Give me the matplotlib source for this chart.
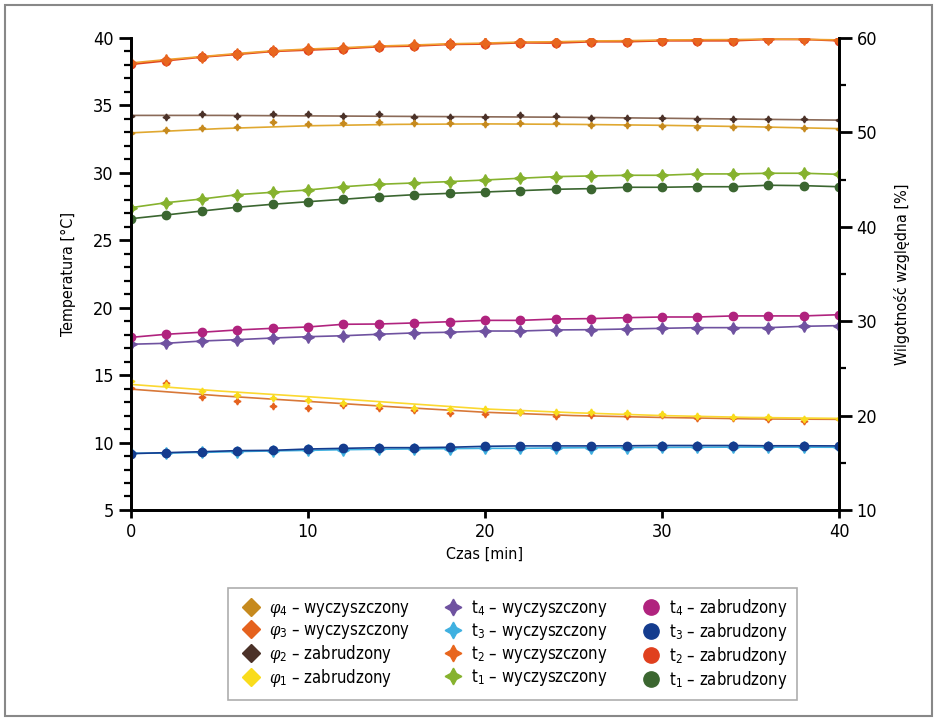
import numpy as np
import matplotlib
matplotlib.use('Agg')
import matplotlib.pyplot as plt
from matplotlib import font_manager
from matplotlib.lines import Line2D
from matplotlib.patches import Rectangle

# Czas pomiaru [min]
czas = np.arange(0, 41, 2)
czas_fit = np.arange(0, 41, 5)

# Temperatury [C] - os lewa
t1_wyc = [27.42, 27.79, 28.06, 28.38, 28.56, 28.73, 28.97, 29.15, 29.25, 29.35, 29.47,
          29.6, 29.72, 29.77, 29.82, 29.82, 29.92, 29.92, 29.97, 29.97, 29.89]
t1_zab = [26.6, 26.88, 27.17, 27.45, 27.67, 27.86, 28.04, 28.23, 28.38, 28.48, 28.58,
          28.68, 28.78, 28.83, 28.93, 28.93, 28.97, 28.97, 29.08, 29.05, 28.97]
t2_wyc = [38.15, 38.4, 38.62, 38.85, 39.05, 39.18, 39.28, 39.4, 39.48, 39.57, 39.62,
          39.7, 39.72, 39.78, 39.8, 39.85, 39.87, 39.88, 39.92, 39.9, 39.86]
t2_zab = [38.05, 38.32, 38.59, 38.79, 39.01, 39.11, 39.21, 39.36, 39.41, 39.53, 39.56,
          39.65, 39.63, 39.73, 39.73, 39.8, 39.8, 39.8, 39.9, 39.9, 39.8]
t3_wyc = [9.2, 9.22, 9.27, 9.33, 9.38, 9.42, 9.47, 9.5, 9.53, 9.55, 9.57,
          9.57, 9.6, 9.62, 9.63, 9.64, 9.65, 9.66, 9.66, 9.66, 9.65]
t3_zab = [9.18, 9.25, 9.32, 9.4, 9.42, 9.52, 9.57, 9.62, 9.62, 9.65, 9.72,
          9.75, 9.75, 9.75, 9.76, 9.78, 9.78, 9.78, 9.76, 9.76, 9.75]
t4_wyc = [17.29, 17.36, 17.53, 17.63, 17.75, 17.85, 17.92, 18.03, 18.13, 18.18, 18.27,
          18.27, 18.35, 18.37, 18.42, 18.47, 18.52, 18.52, 18.52, 18.62, 18.67]
t4_zab = [17.8, 18.03, 18.18, 18.35, 18.47, 18.57, 18.77, 18.79, 18.87, 18.96, 19.06,
          19.06, 19.16, 19.19, 19.26, 19.31, 19.31, 19.39, 19.39, 19.39, 19.48]

# Wilgotnosc wzgledna [%] - os prawa (punkty + linie trendu)
phi1_zab = [23.7, 23.24, 22.64, 22.18, 21.9, 21.68, 21.37, 21.16, 20.84, 20.73, 20.7,
            20.41, 20.41, 20.41, 20.24, 20.14, 19.96, 19.88, 19.88, 19.64, 19.67]
phi1_zab_fit = [23.3, 22.6, 22.0, 21.35, 20.7, 20.3, 20.0, 19.8, 19.7]
phi2_zab = [51.7, 51.6, 51.9, 51.7, 51.9, 51.9, 51.7, 51.9, 51.6, 51.6, 51.6,
            51.8, 51.7, 51.5, 51.5, 51.5, 51.4, 51.4, 51.4, 51.4, 51.3]
phi2_zab_fit = [51.8, 51.8, 51.75, 51.7, 51.65, 51.6, 51.5, 51.4, 51.3]
phi3_wyc = [22.92, 23.49, 21.94, 21.55, 21.02, 20.84, 21.12, 20.84, 20.6, 20.24, 20.2,
            20.38, 19.93, 20.03, 19.93, 20.06, 19.71, 19.71, 19.64, 19.43, 19.64]
phi3_wyc_fit = [22.8, 22.1, 21.5, 20.9, 20.35, 20.0, 19.8, 19.65, 19.6]
phi4_wyc = [49.9, 50.25, 50.47, 50.57, 51.07, 50.92, 50.96, 51.07, 50.96, 50.96, 50.86,
            50.96, 50.96, 50.78, 50.78, 50.68, 50.57, 50.57, 50.57, 50.47, 50.39]
phi4_wyc_fit = [49.95, 50.4, 50.7, 50.85, 50.9, 50.85, 50.75, 50.6, 50.4]

# Kolory
c_phi4 = '#c68a1e'
c_phi3 = '#e5621e'
c_phi2 = '#4b3128'
c_phi1 = '#f9dc1c'
c_t4w = '#6f52a0'
c_t3w = '#3fb0e0'
c_t2w = '#e8661e'
c_t1w = '#86b22e'
c_t4z = '#b0237e'
c_t3z = '#143c8e'
c_t2z = '#e0401e'
c_t1z = '#3b6630'

# Czcionka (waska jak w oryginale)
nazwy = {f.name for f in font_manager.fontManager.ttflist}
if 'Liberation Sans Narrow' in nazwy:
    font = 'Liberation Sans Narrow'
    stretch = 'normal'
else:
    font = 'DejaVu Sans'
    stretch = 'condensed'
plt.rcParams['font.family'] = [font, 'DejaVu Sans']
plt.rcParams['font.stretch'] = stretch
plt.rcParams['mathtext.fontset'] = 'custom'
plt.rcParams['mathtext.rm'] = font
plt.rcParams['mathtext.it'] = 'DejaVu Serif:italic'

star = (4, 1, 0)

fig = plt.figure(figsize=(9.4, 7.21), dpi=100)
ax = fig.add_axes([0.1394, 0.2927, 0.7532, 0.6546])
ax2 = ax.twinx()

# Temperatury
ax.plot(czas, t3_wyc, color=c_t3w, lw=1.2, marker=star, ms=8.5, zorder=3)
ax.plot(czas, t3_zab, color=c_t3z, lw=1.2, marker='o', ms=6, zorder=3)
ax.plot(czas, t4_wyc, color=c_t4w, lw=1.2, marker=star, ms=8.5, zorder=3)
ax.plot(czas, t4_zab, color=c_t4z, lw=1.2, marker='o', ms=6, zorder=3)
ax.plot(czas, t1_zab, color=c_t1z, lw=1.2, marker='o', ms=6, zorder=3)
ax.plot(czas, t1_wyc, color=c_t1w, lw=1.2, marker=star, ms=8.5, zorder=3)
ax.plot(czas, t2_zab, color=c_t2z, lw=1.4, marker='o', ms=6, zorder=3)
ax.plot(czas, t2_wyc, color='#f0a030', lw=1.2, zorder=3)
ax.plot(czas, t2_wyc, color=c_t2w, lw=0, marker=star, ms=8.5, zorder=3)

# Wilgotnosc
ax2.plot(czas_fit, phi2_zab_fit, color='#8a6a58', lw=1.2)
ax2.plot(czas, phi2_zab, color=c_phi2, lw=0, marker=star, ms=5)
ax2.plot(czas_fit, phi4_wyc_fit, color='#e0a830', lw=1.2)
ax2.plot(czas, phi4_wyc, color=c_phi4, lw=0, marker=star, ms=5)
ax2.plot(czas_fit, phi3_wyc_fit, color='#d87838', lw=1.2)
ax2.plot(czas, phi3_wyc, color=c_phi3, lw=0, marker=star, ms=5)
ax2.plot(czas_fit, phi1_zab_fit, color='#fbd830', lw=1.2)
ax2.plot(czas, phi1_zab, color=c_phi1, lw=0, marker=star, ms=5)

ax.set_xlim(0, 40)
ax.set_ylim(5, 40)
ax2.set_ylim(10, 60)
ax.set_xticks([0, 10, 20, 30, 40])
ax.set_yticks(np.arange(5, 41, 5))
ax.set_yticks(np.arange(5, 41, 1), minor=True)
ax2.set_yticks(np.arange(10, 61, 10))
ax2.set_yticks(np.arange(15, 60, 10), minor=True)

for a in (ax, ax2):
    a.spines['top'].set_visible(False)
    for s in ('left', 'right', 'bottom'):
        a.spines[s].set_linewidth(2)
    a.tick_params(which='major', length=9, width=2, labelsize=13, direction='out')
    a.tick_params(which='minor', length=5, width=1.6, direction='out')
ax.tick_params(axis='x', length=6)

ax.set_xlabel('Czas [min]', fontsize=11.5, labelpad=4)
ax.set_ylabel('Temperatura [°C]', fontsize=11.5, labelpad=12)
ax2.set_ylabel('Wilgotność względna [%]', fontsize=11.5, labelpad=12)

# Legenda
uchwyty = [
    Line2D([], [], ls='none', marker='D', ms=9, color=c_phi4),
    Line2D([], [], ls='none', marker='D', ms=9, color=c_phi3),
    Line2D([], [], ls='none', marker='D', ms=9, color=c_phi2),
    Line2D([], [], ls='none', marker='D', ms=9, color=c_phi1),
    Line2D([], [], ls='none', marker=star, ms=12, color=c_t4w),
    Line2D([], [], ls='none', marker=star, ms=12, color=c_t3w),
    Line2D([], [], ls='none', marker=star, ms=12, color=c_t2w),
    Line2D([], [], ls='none', marker=star, ms=12, color=c_t1w),
    Line2D([], [], ls='none', marker='o', ms=11, color=c_t4z),
    Line2D([], [], ls='none', marker='o', ms=11, color=c_t3z),
    Line2D([], [], ls='none', marker='o', ms=11, color=c_t2z),
    Line2D([], [], ls='none', marker='o', ms=11, color=c_t1z),
]
etykiety = [
    r'$\varphi_4$ – wyczyszczony',
    r'$\varphi_3$ – wyczyszczony',
    r'$\varphi_2$ – zabrudzony',
    r'$\varphi_1$ – zabrudzony',
    r't$_4$ – wyczyszczony',
    r't$_3$ – wyczyszczony',
    r't$_2$ – wyczyszczony',
    r't$_1$ – wyczyszczony',
    r't$_4$ – zabrudzony',
    r't$_3$ – zabrudzony',
    r't$_2$ – zabrudzony',
    r't$_1$ – zabrudzony',
]
leg = fig.legend(uchwyty, etykiety, loc='upper left', ncol=3, mode='expand',
                 bbox_to_anchor=(0.2426, 0.0388, 0.6053, 0.1457),
                 fontsize=12, frameon=True, fancybox=False, labelspacing=0.12,
                 handletextpad=0.3, handlelength=1.6, borderaxespad=0,
                 columnspacing=1.0, borderpad=0.55)
leg.get_frame().set_edgecolor('#999999')
leg.get_frame().set_linewidth(1.2)

# Ramka calego rysunku
fig.patches.append(Rectangle((0.005, 0.007), 0.987, 0.986, transform=fig.transFigure,
                             fill=False, edgecolor='#888888', lw=1.5))

fig.savefig('out.png', dpi=100)
